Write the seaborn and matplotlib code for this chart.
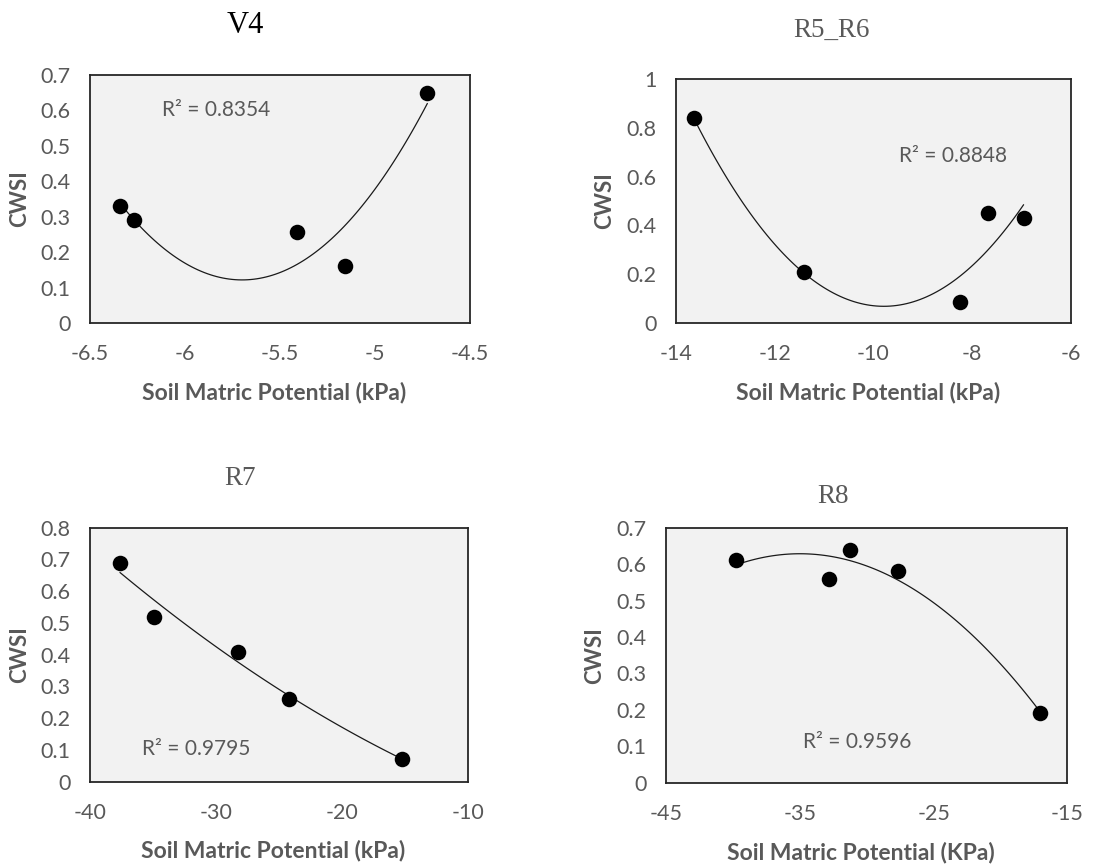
import numpy as np
import pandas as pd
import matplotlib
matplotlib.use("Agg")
import matplotlib.pyplot as plt
import seaborn as sns

sns.set_theme(style="white")
plt.rcParams["font.family"] = ["Lato", "DejaVu Sans"]

# Crop water stress index versus soil matric potential, per growth stage
v4_smp = [-6.34, -6.27, -5.41, -5.16, -4.725]
v4_cwsi = [0.33, 0.29, 0.258, 0.16, 0.65]

r56_smp = [-13.64, -11.40, -8.245, -7.69, -6.96]
r56_cwsi = [0.84, 0.21, 0.089, 0.452, 0.43]

r7_smp = [-37.62, -34.92, -28.22, -24.2, -15.19]
r7_cwsi = [0.69, 0.52, 0.41, 0.26, 0.07]

r8_smp = [-39.79, -32.8, -31.25, -27.64, -17.05]
r8_cwsi = [0.61, 0.56, 0.64, 0.58, 0.19]

stages = ["V4", "R5_R6", "R7", "R8"]
r2_labels = ["R² = 0.8354", "R² = 0.8848", "R² = 0.9795", "R² = 0.9596"]
xlabels = ["Soil Matric Potential (kPa)", "Soil Matric Potential (kPa)",
           "Soil Matric Potential (kPa)", "Soil Matric Potential (KPa)"]

x_ticks = [np.arange(-6.5, -4.49, 0.5), np.arange(-14, -5.9, 2),
           np.arange(-40, -9.9, 10), np.arange(-45, -14.9, 10)]
y_ticks = [np.arange(0, 0.71, 0.1), np.arange(0, 1.01, 0.2),
           np.arange(0, 0.81, 0.1), np.arange(0, 0.71, 0.1)]

datasets = [(v4_smp, v4_cwsi), (r56_smp, r56_cwsi), (r7_smp, r7_cwsi), (r8_smp, r8_cwsi)]


def fmt_y(v):
    v = round(v, 1)
    return f"{v:g}" if v in (0, 1) else f"{v:.1f}"


# layout (figure fractions)
axes_rects = [
    [0.0805, 0.6279, 0.3400, 0.2857],
    [0.6044, 0.6275, 0.3536, 0.2819],
    [0.0805, 0.0994, 0.3378, 0.2926],
    [0.5957, 0.0983, 0.3590, 0.2938],
]
r2_pos = [(-6.123, 0.601), (-9.49, 0.684), (-35.9, 0.102), (-34.74, 0.1125)]
title_pos = [(0.2191, 0.971, "#000000", 22), (0.7440, 0.9654, "#595959", 19.5),
             (0.2147, 0.449, "#595959", 19.5), (0.7451, 0.4278, "#595959", 19.5)]
ylabel_x = [0.018, 0.541, 0.018, 0.532]
xlabel_y = [0.548, 0.548, 0.020, 0.018]

gray = "#595959"
fig = plt.figure(figsize=(11.18, 8.68), dpi=100)

for i, (smp, cwsi) in enumerate(datasets):
    ax = fig.add_axes(axes_rects[i])
    df = pd.DataFrame({"smp": smp, "cwsi": cwsi})
    ax.set_facecolor("#f2f2f2")

    sns.regplot(data=df, x="smp", y="cwsi", order=2, ci=None, scatter=False,
                truncate=True, ax=ax, line_kws=dict(color="#1a1a1a", lw=0.9))
    sns.scatterplot(data=df, x="smp", y="cwsi", ax=ax, s=125, color="black",
                    edgecolor="black", linewidth=0, zorder=5)

    xt, yt = x_ticks[i], y_ticks[i]
    ax.set_xlim(xt[0], xt[-1])
    ax.set_ylim(yt[0], yt[-1])
    ax.set_xticks(xt)
    ax.set_yticks(yt)
    ax.set_xticklabels([f"{v:g}" for v in xt])
    ax.set_yticklabels([fmt_y(v) for v in yt])
    ax.tick_params(axis="both", direction="in", length=7, width=1.1,
                   color="#262626", labelsize=15.5, labelcolor=gray)
    ax.tick_params(axis="x", pad=15)
    ax.tick_params(axis="y", pad=14)
    for sp in ax.spines.values():
        sp.set_visible(True)
        sp.set_color("#262626")
        sp.set_linewidth(1.3)

    ax.set_xlabel("")
    ax.set_ylabel("")
    ax.text(*r2_pos[i], r2_labels[i], fontsize=15, color=gray,
            ha="left", va="center")

    cx, cy, tc, ts = title_pos[i]
    fig.text(cx, cy, stages[i], ha="center", va="center", color=tc,
             fontsize=ts, family="Liberation Serif")
    r = axes_rects[i]
    fig.text(ylabel_x[i], r[1] + r[3] / 2, "CWSI", rotation=90, ha="center",
             va="center", color=gray, fontsize=16, fontweight="bold")
    fig.text(r[0] + r[2] / 2 - 0.005, xlabel_y[i], xlabels[i], ha="center",
             va="center", color=gray, fontsize=16.5, fontweight="bold")

fig.savefig("out.png", dpi=100, facecolor="white")
